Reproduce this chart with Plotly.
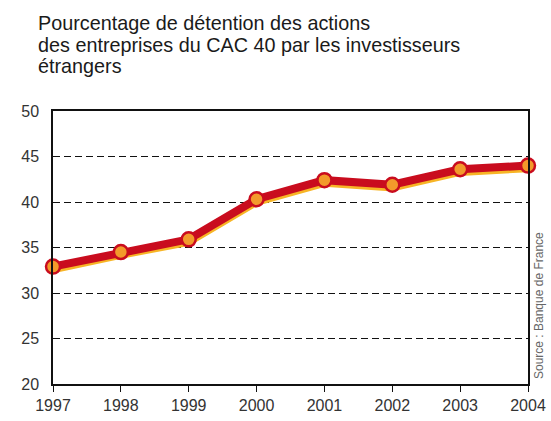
import plotly.graph_objects as go

years = [1997, 1998, 1999, 2000, 2001, 2002, 2003, 2004]
share = [32.9, 34.5, 35.9, 40.3, 42.4, 41.9, 43.6, 44.0]
title_lines = ["Pourcentage de détention des actions",
               "des entreprises du CAC 40 par les investisseurs",
               "étrangers"]
source = "Source : Banque de France"

W, H = 551, 421
PX0, PX1, PY0, PY1 = 53, 528, 111, 384   # plot box in window pixels
L, R, T, B = PX0, W - PX1, PY0, H - PY1
pw = PX1 - PX0
ph = PY1 - PY0
FONT = "Liberation Sans, Arial, sans-serif"

fig = go.Figure()
# yellow/orange underglow just below the line
fig.add_trace(go.Scatter(x=years, y=[v - 0.35 for v in share], mode="lines",
                         line=dict(color="#f7b526", width=7), cliponaxis=False,
                         hoverinfo="skip", showlegend=False))
fig.add_trace(go.Scatter(x=years, y=share, mode="lines+markers",
                         line=dict(color="#c90c1e", width=8),
                         marker=dict(size=14, color="#f39a2b",
                                     line=dict(color="#c90c1e", width=2.5)),
                         cliponaxis=False, showlegend=False))

def px_to_paper_y(ypix):
    return (PY1 - ypix) / ph

def px_to_paper_x(xpix):
    return (xpix - PX0) / pw

ann = []
for i, t in enumerate(title_lines):
    ypix = 23 + i * 21.5
    ann.append(dict(text=t, xref="paper", yref="paper", x=px_to_paper_x(36),
                    y=px_to_paper_y(ypix), xanchor="left", yanchor="middle",
                    showarrow=False, font=dict(size=19.8, color="#1a1a1a", family=FONT)))
ann.append(dict(text=source, xref="paper", yref="paper", x=px_to_paper_x(539),
                y=px_to_paper_y(306), textangle=-90, showarrow=False,
                xanchor="center", yanchor="middle",
                font=dict(size=12, color="#666", family=FONT)))

fig.update_layout(
    width=W, height=H, margin=dict(l=L, r=R, t=T, b=B, pad=0),
    paper_bgcolor="white", plot_bgcolor="white",
    font=dict(family=FONT, size=16, color="#333"),
    annotations=ann,
    xaxis=dict(range=[1997, 2004], tickvals=years, ticks="outside", ticklen=6,
               tickcolor="#111", tickwidth=1.3, showline=True, linecolor="#111",
               linewidth=1.5, mirror=True, showgrid=False, zeroline=False,
               automargin=False, ticklabeloverflow="allow",
               tickfont=dict(size=16, color="#333")),
    yaxis=dict(range=[20, 50], dtick=5, showline=True, linecolor="#111",
               linewidth=1.5, mirror=True, showgrid=True, gridcolor="#111",
               griddash="7px,4px", gridwidth=1.4, zeroline=False, ticks="",
               automargin=False, ticklabeloverflow="allow",
               ticklabelstandoff=9, tickfont=dict(size=16, color="#333")),
)

fig.write_html("out.html", config={"displayModeBar": False},
               post_script="document.body.style.margin='0px';document.body.style.overflow='hidden';")
